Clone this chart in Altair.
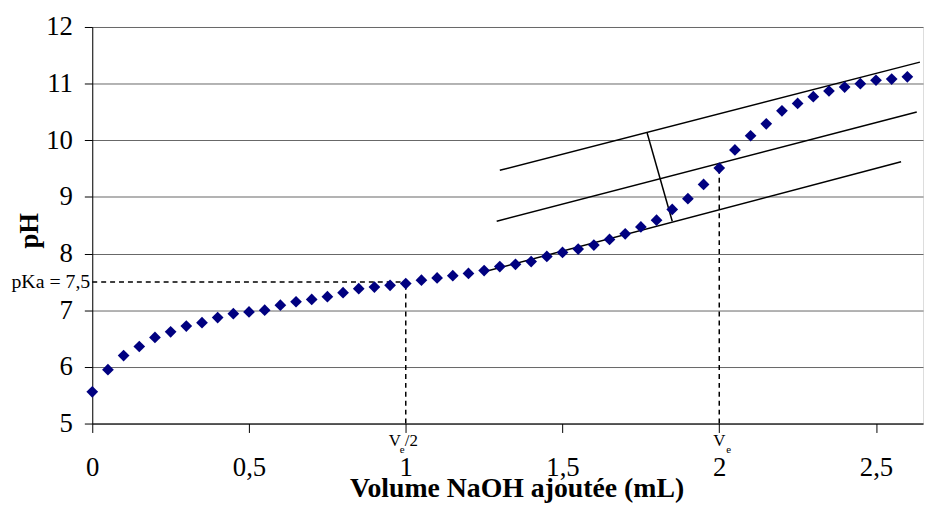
import altair as alt
import pandas as pd

volume = [0.00, 0.05, 0.10, 0.15, 0.20, 0.25, 0.30, 0.35, 0.40, 0.45,
          0.50, 0.55, 0.60, 0.65, 0.70, 0.75, 0.80, 0.85, 0.90, 0.95,
          1.00, 1.05, 1.10, 1.15, 1.20, 1.25, 1.30, 1.35, 1.40, 1.45,
          1.50, 1.55, 1.60, 1.65, 1.70, 1.75, 1.80, 1.85, 1.90, 1.95,
          2.00, 2.05, 2.10, 2.15, 2.20, 2.25, 2.30, 2.35, 2.40, 2.45,
          2.50, 2.55, 2.60]
ph = [5.56, 5.95, 6.20, 6.36, 6.52, 6.62, 6.72, 6.78, 6.87, 6.94,
      6.97, 7.00, 7.09, 7.15, 7.19, 7.24, 7.31, 7.38, 7.41, 7.44,
      7.47, 7.53, 7.57, 7.61, 7.65, 7.70, 7.77, 7.81, 7.86, 7.95,
      8.02, 8.08, 8.15, 8.25, 8.35, 8.47, 8.59, 8.78, 8.97, 9.22,
      9.51, 9.83, 10.08, 10.29, 10.52, 10.65, 10.77, 10.87, 10.94, 11.00,
      11.06, 11.08, 11.12]

# three parallel tangents + perpendicular segment (method of tangents)
seg_x1 = [1.30, 1.29, 1.25, 1.77]
seg_y1 = [9.47, 8.57, 7.68, 10.13]
seg_x2 = [2.64, 2.63, 2.58, 1.85]
seg_y2 = [11.38, 10.50, 9.62, 8.57]

# dashed guides: pKa horizontal, Ve/2 vertical, Ve vertical
dash_x1 = [0.0, 1.0, 2.0]
dash_y1 = [7.5, 5.0, 5.0]
dash_x2 = [1.0, 1.0, 2.0]
dash_y2 = [7.5, 7.5, 9.5]

x_ticks = [0, 0.5, 1, 1.5, 2, 2.5]
y_ticks = [5, 6, 7, 8, 9, 10, 11, 12]

FONT = "Liberation Serif"

pts = pd.DataFrame({"v": volume, "ph": ph})
segs = pd.DataFrame({"x1": seg_x1, "y1": seg_y1, "x2": seg_x2, "y2": seg_y2})
dashes = pd.DataFrame({"x1": dash_x1, "y1": dash_y1, "x2": dash_x2, "y2": dash_y2})

xs = alt.Scale(domain=[0, 2.65], nice=False, zero=False)
ys = alt.Scale(domain=[5, 12], nice=False, zero=False)

xaxis = alt.Axis(values=x_ticks, grid=False, title="Volume NaOH ajoutée (mL)",
                 labelExpr="replace(format(datum.value, '~g'), '.', ',')",
                 labelFont=FONT, labelFontSize=27, labelColor="black",
                 labelBaseline="alphabetic", labelPadding=43, labelFlush=False,
                 labelOverlap=False,
                 tickSize=9, tickColor="black", domainColor="black",
                 titleFont=FONT, titleFontSize=28, titleFontWeight="bold",
                 titleColor="black", titleBaseline="alphabetic",
                 titleX=428, titleY=74)
yaxis = alt.Axis(values=y_ticks, grid=True, gridColor="#666666", title="pH",
                 labelExpr="format(datum.value, '~g')",
                 labelFont=FONT, labelFontSize=27, labelColor="black",
                 labelPadding=12, tickSize=8, tickColor="black",
                 domainColor="black", labelFlush=False, labelOverlap=False,
                 titleFont=FONT, titleFontSize=27, titleFontWeight="bold",
                 titleColor="black", titleBaseline="alphabetic",
                 titleX=-55, titleY=205, titleAlign="center", titleAngle=-90)

points = alt.Chart(pts).mark_point(shape="diamond", filled=True, color="#000080",
                                   size=140, opacity=1).encode(
    x=alt.X("v:Q", scale=xs, axis=xaxis),
    y=alt.Y("ph:Q", scale=ys, axis=yaxis),
)

lines = alt.Chart(segs).mark_rule(color="black", strokeWidth=1.5).encode(
    x=alt.X("x1:Q", scale=xs), y=alt.Y("y1:Q", scale=ys),
    x2="x2:Q", y2="y2:Q",
)

dashed = alt.Chart(dashes).mark_rule(color="black", strokeWidth=1.5,
                                      strokeDash=[5, 4]).encode(
    x=alt.X("x1:Q", scale=xs), y=alt.Y("y1:Q", scale=ys),
    x2="x2:Q", y2="y2:Q",
)

pka_label = alt.Chart(pd.DataFrame({"x": [0], "y": [7.5], "t": ["pKa = 7,5"]})).mark_text(
    font=FONT, fontSize=20, color="black", align="right", baseline="middle", dx=-2
).encode(x=alt.X("x:Q", scale=xs), y=alt.Y("y:Q", scale=ys), text="t:N")

def lbl(xv, txt, size, dx, dy, align):
    return alt.Chart(pd.DataFrame({"x": [xv], "y": [5], "t": [txt]})).mark_text(
        font=FONT, fontSize=size, color="black", align=align,
        baseline="alphabetic", dx=dx, dy=dy
    ).encode(x=alt.X("x:Q", scale=xs), y=alt.Y("y:Q", scale=ys), text="t:N")

labels = [
    lbl(1, "V", 17, -11, 23, "center"),
    lbl(1, "e", 11, -6, 30, "left"),
    lbl(1, "/2", 17, -1, 23, "left"),
    lbl(2, "V", 17, 0, 23, "center"),
    lbl(2, "e", 11, 7, 30, "left"),
]

chart = alt.layer(dashed, lines, points, pka_label, *labels).properties(
    width=838, height=400,
    autosize=alt.AutoSizeParams(type="none"),
    padding={"left": 85, "top": 17, "right": 3, "bottom": 78},
).configure_view(stroke=None).configure(background="white")

chart.save("out.html", embed_options={"renderer": "svg", "actions": False})
